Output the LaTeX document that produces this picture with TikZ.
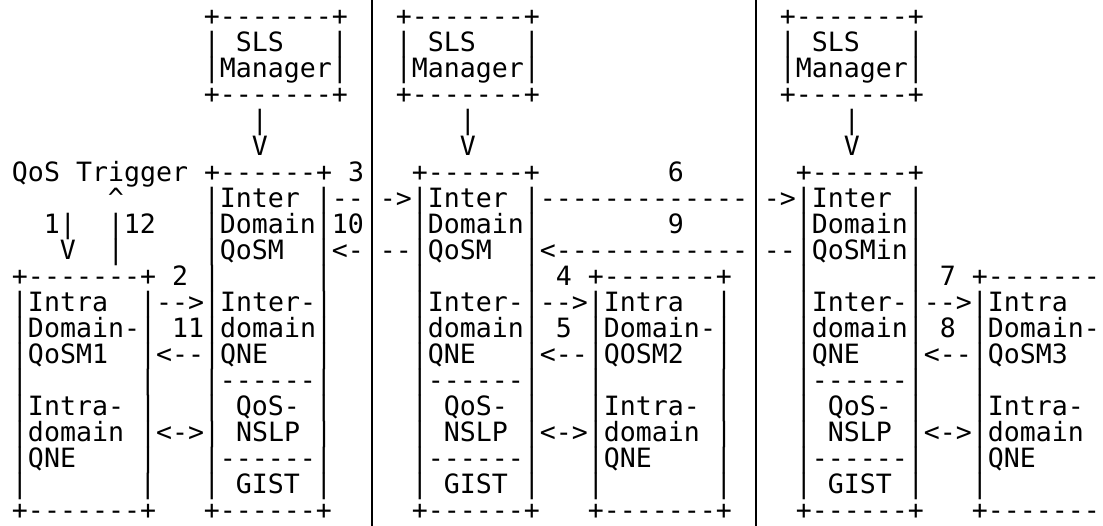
\documentclass[tikz,border=0pt]{standalone}
\usepackage{fontspec}
\setmonofont{DejaVu Sans Mono}

\begin{document}
\begin{tikzpicture}[x=16pt,y=-26pt]
  \tikzstyle{chars}=[anchor=base west,inner sep=0pt,outer sep=0pt,
    font=\ttfamily\fontsize{26.58pt}{26pt}\selectfont]
  \tikzstyle{divider}=[line width=2.1pt]
  \fill[white] (-0.75,0) rectangle (68.19,20.231);
  \useasboundingbox (-0.75,0) rectangle (68.19,20.231);
  % the two long bars that split the domains
  \coordinate (divtop1) at (22.5,0);
  \coordinate (divbot1) at (22.5,20.231);
  \coordinate (divtop2) at (46.5,0);
  \coordinate (divbot2) at (46.5,20.231);
  \draw[divider] (divtop1) -- (divbot1);
  \draw[divider] (divtop2) -- (divbot2);
  % one line of the chart per loop, each run of text at its column
  \foreach \col/\seg in {12/{+-------+},24/{+-------+},48/{+-------+}}
    \node[chars] (r1c\col) at (\col,1) {\seg};
  \foreach \col/\seg in {12/{|~SLS~~~|},24/{|~SLS~~~|},48/{|~SLS~~~|}}
    \node[chars] (r2c\col) at (\col,2) {\seg};
  \foreach \col/\seg in {12/{|Manager|},24/{|Manager|},48/{|Manager|}}
    \node[chars] (r3c\col) at (\col,3) {\seg};
  \foreach \col/\seg in {12/{+-------+},24/{+-------+},48/{+-------+}}
    \node[chars] (r4c\col) at (\col,4) {\seg};
  \foreach \col/\seg in {15/|,28/|,52/|}
    \node[chars] (r5c\col) at (\col,5) {\seg};
  \foreach \col/\seg in {15/V,28/V,52/V}
    \node[chars] (r6c\col) at (\col,6) {\seg};
  \foreach \col/\seg in {0/{QoS~Trigger~+------+~3},25/{+------+},41/6,49/{+------+}}
    \node[chars] (r7c\col) at (\col,7) {\seg};
  \foreach \col/\seg in {6/\textasciicircum,12/{|Inter~|--},23/{->|Inter~|-------------},47/{->|Inter~|}}
    \node[chars] (r8c\col) at (\col,8) {\seg};
  \foreach \col/\seg in {2/{1|},6/{|12},12/{|Domain|10},25/{|Domain|},41/9,49/{|Domain|}}
    \node[chars] (r9c\col) at (\col,9) {\seg};
  \foreach \col/\seg in {3/V,6/|,12/{|QoSM~~|<-},23/{--|QoSM~~|<------------},47/{--|QoSMin|}}
    \node[chars] (r10c\col) at (\col,10) {\seg};
  \foreach \col/\seg in {0/{+-------+~2~|},19/|,25/|,32/{|~4~+-------+},49/|,56/{|~7~+-------}}
    \node[chars] (r11c\col) at (\col,11) {\seg};
  \foreach \col/\seg in {0/{|Intra~~|-->|Inter-|},25/{|Inter-|-->|Intra~~|},49/{|Inter-|-->|Intra}}
    \node[chars] (r12c\col) at (\col,12) {\seg};
  \foreach \col/\seg in {0/{|Domain-|~11|domain|},25/{|domain|~5~|Domain-|},49/{|domain|~8~|Domain-}}
    \node[chars] (r13c\col) at (\col,13) {\seg};
  \foreach \col/\seg in {0/{|QoSM1~~|<--|QNE~~~|},25/{|QNE~~~|<--|QOSM2~~|},49/{|QNE~~~|<--|QoSM3}}
    \node[chars] (r14c\col) at (\col,14) {\seg};
  \foreach \col/\seg in {0/|,8/|,12/{|------|},25/{|------|},36/|,44/|,49/{|------|},60/|}
    \node[chars] (r15c\col) at (\col,15) {\seg};
  \foreach \col/\seg in {0/{|Intra-~|},12/{|~QoS-~|},25/{|~QoS-~|},36/{|Intra-~|},49/{|~QoS-~|},60/{|Intra-}}
    \node[chars] (r16c\col) at (\col,16) {\seg};
  \foreach \col/\seg in {0/{|domain~|<->|~NSLP~|},25/{|~NSLP~|<->|domain~|},49/{|~NSLP~|<->|domain}}
    \node[chars] (r17c\col) at (\col,17) {\seg};
  \foreach \col/\seg in {0/{|QNE~~~~|},12/{|------|},25/{|------|},36/{|QNE~~~~|},49/{|------|},60/{|QNE}}
    \node[chars] (r18c\col) at (\col,18) {\seg};
  \foreach \col/\seg in {0/|,8/|,12/{|~GIST~|},25/{|~GIST~|},36/|,44/|,49/{|~GIST~|},60/|}
    \node[chars] (r19c\col) at (\col,19) {\seg};
  \foreach \col/\seg in {0/{+-------+},12/{+------+},25/{+------+},36/{+-------+},49/{+------+},60/{+-------}}
    \node[chars] (r20c\col) at (\col,20) {\seg};
\end{tikzpicture}
\end{document}
